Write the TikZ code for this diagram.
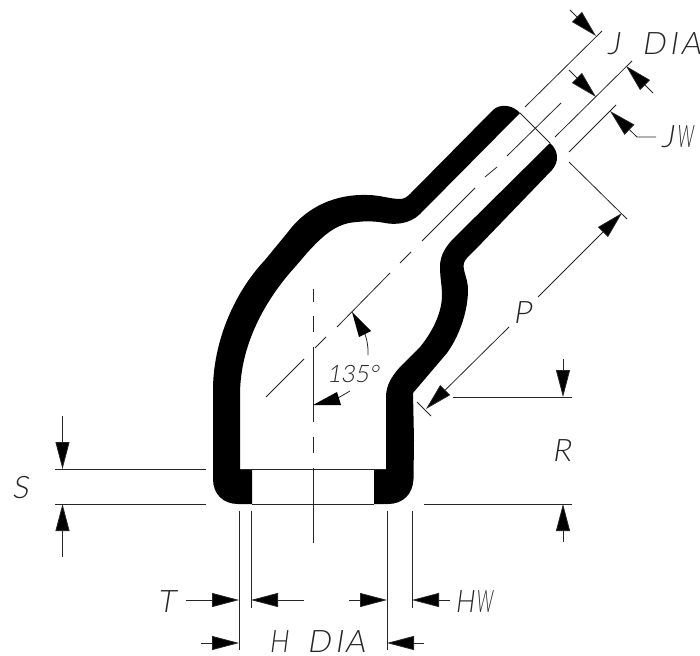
\documentclass[tikz,border=0pt]{standalone}
\usepackage{fontspec}
\usetikzlibrary{arrows.meta}
\newfontfamily\cadfont[FakeSlant=0.16]{Lato Light}
\newcommand{\narrowW}{\scalebox{0.52}[1]{W}}
\newcommand{\narrowH}{\scalebox{0.82}[1]{H}}
\tikzset{
  fine/.style={line width=0.8pt,draw=black!85},
  dimarrow/.style={fine,-{Triangle[length=27pt,width=14pt,fill=black]}},
  wall/.style={fill=black,draw=none},
  cadlabel/.style={anchor=base west,inner sep=0pt,outer sep=0pt,font=\cadfont\fontsize{31}{31}\selectfont,text=black!85},
  cadsmall/.style={cadlabel,font=\cadfont\fontsize{24}{24}\selectfont},
}
\begin{document}
\begin{tikzpicture}[x=1pt,y=-1pt]
\useasboundingbox (0,0) rectangle (700,655);
% left / upper wall
\fill[wall] (252,504) -- (238,504) .. controls (223,504) and (213,494) .. (213,479)
  -- (213,390) .. controls (213,345) and (232,295) .. (265,260)
  -- (288,232) .. controls (308,205) and (338,194) .. (367,195)
  .. controls (380,195) and (390,199) .. (400,199)
  .. controls (404,199) and (407,197) .. (410,194)
  -- (493,110) .. controls (499,104) and (512,104) .. (520,113)
  -- (420,214) .. controls (410,224) and (395,225) .. (385,223)
  .. controls (375,221) and (365,221) .. (357,222)
  .. controls (338,223) and (325,233) .. (307,253)
  -- (295,267) .. controls (265,300) and (240,345) .. (240,395)
  -- (240,469) -- (252,469) -- cycle;
% right / lower wall
\fill[wall] (374,504) -- (388,504) .. controls (403,504) and (413,494) .. (413.5,479) -- (414,440) -- (413,393)
  -- (447,353) .. controls (460,335) and (468,310) .. (468,290)
  .. controls (468,278) and (462,270) .. (464,263)
  .. controls (465,259) and (470,255) .. (475,250)
  -- (552,170) .. controls (559,162) and (559,151) .. (550,143)
  -- (452,240) .. controls (443,250) and (440,258) .. (440,267)
  .. controls (440,278) and (442,285) .. (442,295)
  .. controls (442,315) and (430,335) .. (420,347)
  -- (400,367) .. controls (392,376) and (386,385) .. (386,397)
  -- (386,469) -- (374,469) -- cycle;
% end-face and mouth lines
\draw[fine] (520,113) -- (550,143);
\draw[fine] (240,469) -- (386,469);
\draw[fine] (252,504) -- (374,504);
% vertical centre line
\draw[fine] (313,289) -- (313,302);
\draw[fine] (313,316) -- (313,332);
\draw[fine] (313,347) -- (313,422);
\draw[fine] (313,437) -- (313,453);
\draw[fine] (313,468) -- (313,543);
% 45 degree centre line
\draw[fine] (561,103) -- (507,156);
\draw[fine] (497,167) -- (485,177);
\draw[fine] (475,188) -- (422,241);
\draw[fine] (411,252) -- (400,263);
\draw[fine] (390,273) -- (337,327);
\draw[fine] (326,337) -- (315,348);
\draw[fine] (304,359) -- (266,397);
% extension lines, tube end
\draw[fine] (602,31) -- (525,107);
\draw[fine] (632,61) -- (555,137);
\draw[fine] (616,105) -- (569,152);
\draw[fine] (569,162) -- (627,219);
\draw[fine] (417,402) -- (431,416);
% J DIA and JW arrows
\draw[dimarrow] (570,10) -- (596,36);
\draw[dimarrow] (569,70) -- (596,97);
\draw[dimarrow] (653,93) -- (626,66);
\draw[dimarrow] (656,137) -- (637,137) -- (610,111);
% P
\draw[dimarrow] (538,297) -- (622,213);
\draw[dimarrow] (509,327) -- (426,409);
% S
\draw[fine] (55,469) -- (206,469);
\draw[fine] (55,504) -- (206,504);
\draw[dimarrow] (62.5,416) -- (62.5,469);
\draw[dimarrow] (62.5,557) -- (62.5,504);
% R
\draw[fine] (453,397) -- (572,397);
\draw[fine] (424,504) -- (572,504);
\draw[dimarrow] (563,359) -- (563,397);
\draw[dimarrow] (563,542) -- (563,504);
% bottom extension lines
\draw[fine] (239,511) -- (239,650);
\draw[fine] (251,511) -- (251,608);
\draw[fine] (387,511) -- (387,650);
\draw[fine] (412,511) -- (412,608);
% T, HW, H DIA
\draw[dimarrow] (186,600) -- (239,600);
\draw[dimarrow] (304,600) -- (251,600);
\draw[dimarrow] (349,600) -- (387,600);
\draw[dimarrow] (450,600) -- (412,600);
\draw[dimarrow] (201,643) -- (239,643);
\draw[dimarrow] (424,643) -- (387,643);
% angle
\draw[fine] (368,355) .. controls (368.5,345) and (366,335) .. (363,330);
\fill (352,312) -- (359,337) -- (371,331) -- cycle;
\draw[fine] (350,391) -- (338,398);
\fill (313,405) -- (337,392) -- (341,405) -- cycle;
% labels
\node[cadlabel] (jdia) at (607,55) {J\hspace{22pt}D\hspace{4pt}I\hspace{3pt}A};
\node[cadlabel] (jw) at (661,148) {J\hspace{3pt}\narrowW};
\node[cadlabel] (s) at (12,498) {S};
\node[cadlabel] (r) at (552,461) {R};
\node[cadlabel] (p) at (513,323) {P};
\node[cadsmall] (ang) at (327,382) {135°};
\node[cadlabel] (t) at (157,612) {T};
\node[cadlabel] (hw) at (455,612) {\narrowH\hspace{2pt}\narrowW};
\node[cadlabel] (hdia) at (269,652) {\narrowH\hspace{19pt}D\hspace{4pt}I\hspace{2pt}A};
\end{tikzpicture}
\end{document}
